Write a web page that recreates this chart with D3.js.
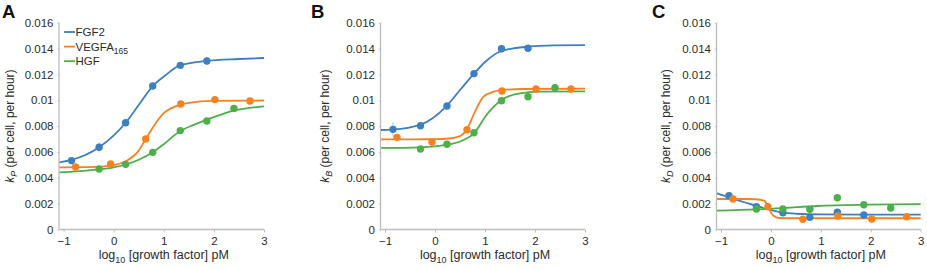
<!DOCTYPE html>
<html>
<head>
<meta charset="utf-8">
<script src="https://cdn.jsdelivr.net/npm/d3@7"></script>
<style>
  body { margin: 0; background: #fff; }
  svg { display: block; font-family: "Liberation Sans", Arial, sans-serif; }
</style>
</head>
<body>
<svg id="chart" width="927" height="269"></svg>
<script>
// growth factors
const categories = ["FGF2", "VEGFA", "HGF"];
const colors = ["#3d7fc1", "#f6821f", "#4dae4a"];

// log10 concentrations of the measured points
const xFGF2 = [-0.84, -0.29, 0.24, 0.78, 1.33, 1.86];
const xVEGFA = [-0.76, -0.06, 0.64, 1.34, 2.02, 2.72];
const xHGF = [-0.29, 0.24, 0.78, 1.33, 1.86, 2.40];

const xTicks = [-1, 0, 1, 2, 3];
const yTicks = [0, 0.002, 0.004, 0.006, 0.008, 0.01, 0.012, 0.014, 0.016];
const yTickLabels = ["0", "0.002", "0.004", "0.006", "0.008", "0.01", "0.012", "0.014", "0.016"];

// panel A - kP
const kpFGF2 = [0.00533, 0.00636, 0.00826, 0.0111, 0.0127, 0.01304];
const kpVEGFA = [0.00484, 0.00507, 0.0070, 0.00971, 0.01005, 0.00994];
const kpHGF = [0.00468, 0.00504, 0.00597, 0.00765, 0.00839, 0.00937];
const kpErrFGF2 = [0.0002, 0.0004, 0.0002, 0.0002, 0.0002, 0.0003];
const kpErrVEGFA = [0.0002, 0.0002, 0.0002, 0.0002, 0.0001, 0.0002];
const kpErrHGF = [0.0001, 0.0002, 0.0002, 0.0002, 0.0002, 0.0002];

const kpFitFGF2X = [-1.08, -0.84, -0.29, 0.24, 0.5, 0.78, 1.04, 1.32, 1.85, 2.5, 3];
const kpFitFGF2 = [0.0052, 0.00538, 0.00636, 0.00826, 0.00963, 0.0111, 0.01195, 0.0127, 0.01304, 0.01319, 0.01327];
const kpFitVEGFAX = [-1.08, -0.5, 0, 0.25, 0.5, 0.64, 0.75, 1.0, 1.25, 1.5, 2, 3];
const kpFitVEGFA = [0.0048, 0.00482, 0.00498, 0.0053, 0.0061, 0.0070, 0.0077, 0.0090, 0.00955, 0.0098, 0.00995, 0.00998];
const kpFitHGFX = [-1.08, -0.5, 0, 0.5, 0.78, 1.0, 1.32, 1.6, 1.86, 2.4, 3];
const kpFitHGF = [0.00442, 0.00457, 0.0048, 0.0054, 0.00598, 0.0066, 0.0076, 0.0081, 0.0085, 0.0092, 0.00953];

// panel B - kB
const kbFGF2 = [0.00775, 0.00803, 0.00955, 0.01206, 0.01399, 0.01402];
const kbVEGFA = [0.00713, 0.00677, 0.00772, 0.01072, 0.01087, 0.01087];
const kbHGF = [0.00623, 0.00659, 0.00749, 0.00997, 0.01028, 0.01097];
const kbErrFGF2 = [0.00055, 0.0002, 0.0002, 0.0003, 0.0003, 0.0002];
const kbErrVEGFA = [0.0003, 0.0003, 0.0002, 0.0002, 0.0002, 0.0002];
const kbErrHGF = [0.0002, 0.0002, 0.0002, 0.0003, 0.0003, 0.0003];

const kbFitFGF2X = [-1.08, -0.85, -0.3, 0.23, 0.5, 0.78, 1.03, 1.33, 1.87, 2.37, 3];
const kbFitFGF2 = [0.0077, 0.00773, 0.00809, 0.00955, 0.01079, 0.01206, 0.01306, 0.01381, 0.01415, 0.01425, 0.01427];
const kbFitVEGFAX = [-1.08, -0.5, 0, 0.23, 0.5, 0.63, 0.8, 0.97, 1.17, 1.33, 1.77, 3];
const kbFitVEGFA = [0.00698, 0.00698, 0.00699, 0.00702, 0.00723, 0.0077, 0.00912, 0.01028, 0.01066, 0.01079, 0.01087, 0.0109];
const kbFitHGFX = [-1.08, -0.3, 0.23, 0.57, 0.78, 1.03, 1.33, 1.7, 2.1, 3];
const kbFitHGF = [0.00631, 0.00636, 0.00654, 0.00692, 0.00744, 0.00886, 0.01002, 0.01054, 0.01066, 0.01069];

// panel C - kD
const kdFGF2 = [0.00262, 0.00176, 0.0013, 0.00094, 0.00133, 0.00112];
const kdVEGFA = [0.00236, 0.00176, 0.00079, 0.00104, 0.00081, 0.00099];
const kdHGF = [0.00159, 0.00159, 0.00156, 0.00246, 0.00192, 0.00166];
const kdErrFGF2 = [0.0002, 0.0002, 0.0002, 0.0002, 0.0002, 0.0002];
const kdErrVEGFA = [0.0002, 0.0002, 0.0001, 0.0002, 0.0001, 0.0001];
const kdErrHGF = [0.0002, 0.0002, 0.0002, 0.0002, 0.0002, 0.0002];

const kdFitFGF2X = [-1.08, -0.5, -0.29, 0, 0.25, 0.5, 1.0, 3];
const kdFitFGF2 = [0.0028, 0.00207, 0.00182, 0.00151, 0.0013, 0.00122, 0.00117, 0.00115];
const kdFitVEGFAX = [-1.08, -0.5, -0.3, -0.14, -0.07, -0.01, 0.06, 0.16, 0.4, 3];
const kdFitVEGFA = [0.00236, 0.00236, 0.00234, 0.00223, 0.0019, 0.00138, 0.00104, 0.00089, 0.00087, 0.00087];
const kdFitHGFX = [-1.08, -0.29, 0.3, 0.93, 1.93, 3];
const kdFitHGF = [0.00146, 0.00155, 0.00168, 0.00182, 0.00192, 0.00197];

const panels = [
    {letter: "A", sub: "P", left: 59.5, right: 264, letterX: 2, titleX: 14, legend: true,
     xs: [xFGF2, xVEGFA, xHGF], ys: [kpFGF2, kpVEGFA, kpHGF], errs: [kpErrFGF2, kpErrVEGFA, kpErrHGF],
     fitX: [kpFitFGF2X, kpFitVEGFAX, kpFitHGFX], fitY: [kpFitFGF2, kpFitVEGFA, kpFitHGF]},
    {letter: "B", sub: "B", left: 381, right: 585, letterX: 311, titleX: 329, legend: false,
     xs: [xFGF2, xVEGFA, xHGF], ys: [kbFGF2, kbVEGFA, kbHGF], errs: [kbErrFGF2, kbErrVEGFA, kbErrHGF],
     fitX: [kbFitFGF2X, kbFitVEGFAX, kbFitHGFX], fitY: [kbFitFGF2, kbFitVEGFA, kbFitHGF]},
    {letter: "C", sub: "D", left: 717, right: 920.7, letterX: 652, titleX: 670, legend: false,
     xs: [xFGF2, xVEGFA, xHGF], ys: [kdFGF2, kdVEGFA, kdHGF], errs: [kdErrFGF2, kdErrVEGFA, kdErrHGF],
     fitX: [kdFitFGF2X, kdFitVEGFAX, kdFitHGFX], fitY: [kdFitFGF2, kdFitVEGFA, kdFitHGF]}
];

const plotTop = 22.7, plotBottom = 229.5;
const axisColor = "#bdbdbd", textColor = "#2b2b2b";
const svg = d3.select("#chart");

panels.forEach(p => {
    const x = d3.scaleLinear().domain([-1.08, 3]).range([p.left, p.right]);
    const y = d3.scaleLinear().domain([0, 0.016]).range([plotBottom, plotTop]);
    const g = svg.append("g");

    // axes
    const yAxis = d3.axisLeft(y).tickValues(yTicks).tickSize(2).tickPadding(4)
                    .tickFormat((d, i) => yTickLabels[i]);
    const gy = g.append("g").attr("transform", `translate(${p.left},0)`).call(yAxis);
    gy.select(".domain").attr("d", `M-0.5,${plotTop}V${plotBottom}`);

    const xAxis = d3.axisBottom(x).tickValues(xTicks).tickSize(3).tickPadding(4)
                    .tickFormat(d3.format("d"));
    const gx = g.append("g").attr("transform", `translate(0,${plotBottom})`).call(xAxis);
    gx.select(".domain").attr("d", `M${p.left},0H${p.right}`);

    [gx, gy].forEach(a => {
        a.selectAll(".domain").attr("stroke", axisColor).attr("stroke-width", 1.3);
        a.selectAll(".tick line").attr("stroke", axisColor);
        a.selectAll("text").attr("fill", textColor).attr("font-size", 11.5)
         .attr("font-family", "Liberation Sans, Arial, sans-serif");
    });

    // fitted curves
    const line = d3.line().x(d => x(d[0])).y(d => y(d[1])).curve(d3.curveMonotoneX);
    p.fitX.forEach((fx, i) => {
        g.append("path")
         .datum(fx.map((v, j) => [v, p.fitY[i][j]]))
         .attr("d", line)
         .attr("fill", "none")
         .attr("stroke", colors[i])
         .attr("stroke-width", 1.8);
    });

    // error bars + points
    p.xs.forEach((xs, i) => {
        const pts = xs.map((v, j) => ({x: v, y: p.ys[i][j], e: p.errs[i][j]}));
        g.selectAll(null).data(pts).enter().append("line")
         .attr("x1", d => x(d.x)).attr("x2", d => x(d.x))
         .attr("y1", d => y(d.y - d.e)).attr("y2", d => y(d.y + d.e))
         .attr("stroke", colors[i]).attr("stroke-opacity", 0.45).attr("stroke-width", 1);
        g.selectAll(null).data(pts).enter().append("circle")
         .attr("cx", d => x(d.x)).attr("cy", d => y(d.y))
         .attr("r", 3.7)
         .attr("fill", colors[i]);
    });

    // panel letter
    svg.append("text").attr("x", p.letterX).attr("y", 17.5)
       .attr("font-size", 18.5).attr("font-weight", "bold").attr("fill", "#111")
       .text(p.letter);

    // y title
    const yt = svg.append("text")
       .attr("transform", `translate(${p.titleX},${(plotTop + plotBottom) / 2}) rotate(-90)`)
       .attr("text-anchor", "middle").attr("font-size", 12).attr("fill", textColor);
    yt.append("tspan").attr("font-style", "italic").text("k");
    yt.append("tspan").attr("font-style", "italic").attr("font-size", 9).attr("dy", 3).text(p.sub);
    yt.append("tspan").attr("dy", -3).text(" (per cell, per hour)");

    // x title
    const xt = svg.append("text")
       .attr("x", x(1)).attr("y", 259)
       .attr("text-anchor", "middle").attr("font-size", 12.5).attr("fill", textColor);
    xt.append("tspan").text("log");
    xt.append("tspan").attr("font-size", 9).attr("dy", 4).text("10");
    xt.append("tspan").attr("dy", -4).text(" [growth factor] pM");

    // legend
    if (p.legend) {
        const lg = svg.append("g").attr("transform", "translate(64,32)");
        categories.forEach((c, i) => {
            const row = lg.append("g").attr("transform", `translate(0,${i * 14.6})`);
            row.append("line").attr("x1", 0).attr("x2", 11).attr("y1", 0).attr("y2", 0)
               .attr("stroke", colors[i]).attr("stroke-width", 1.8);
            const t = row.append("text").attr("x", 11.5).attr("y", 4.2)
               .attr("font-size", 11.5).attr("fill", textColor);
            t.append("tspan").text(c);
            if (c === "VEGFA") {
                t.append("tspan").attr("font-size", 8.5).attr("dy", 3.5).text("165");
            }
        });
    }
});
</script>
</body>
</html>
